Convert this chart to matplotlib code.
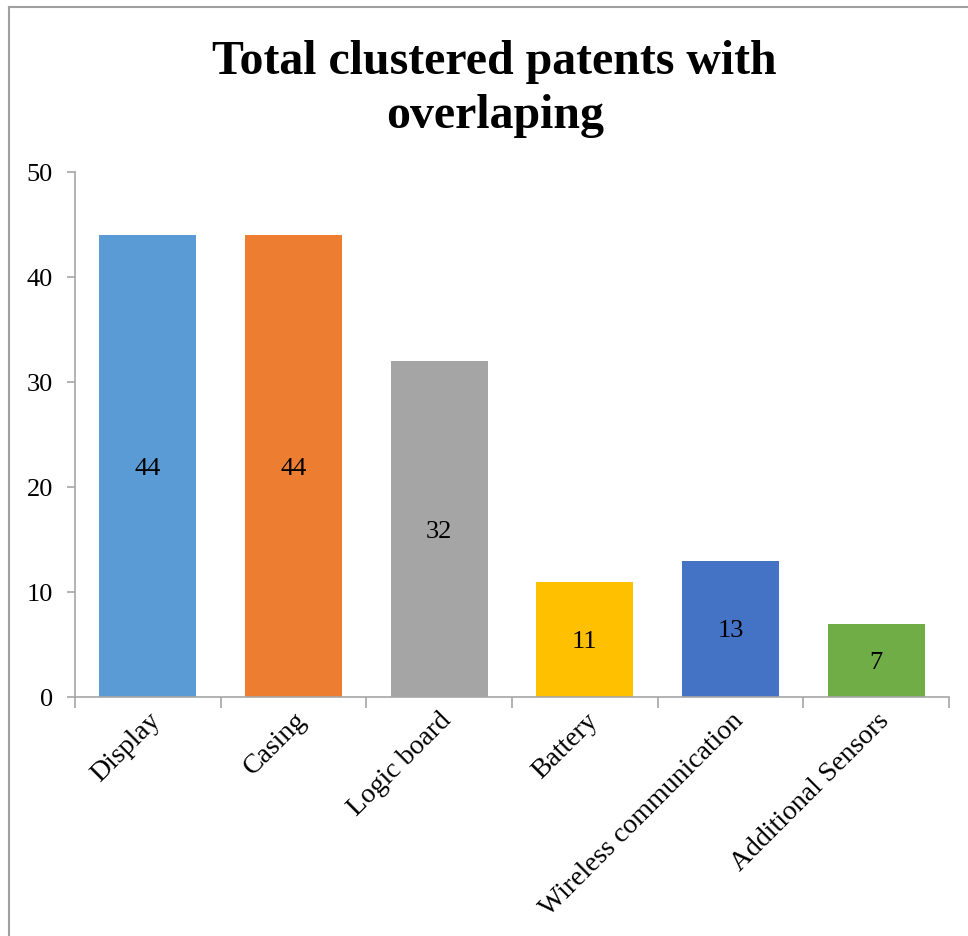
import matplotlib.pyplot as plt
from matplotlib.lines import Line2D

categories = ['Display', 'Casing', 'Logic board', 'Battery',
              'Wireless communication', 'Additional Sensors']
counts = [44, 44, 32, 11, 13, 7]
bar_colors = ['#5B9BD5', '#ED7D31', '#A5A5A5', '#FFC000', '#4472C4', '#70AD47']
y_ticks = [0, 10, 20, 30, 40, 50]

plt.rcParams['font.family'] = ['Liberation Serif', 'DejaVu Serif']

fig = plt.figure(figsize=(9.68, 9.36), dpi=100)
ax = fig.add_axes([0.0775, 0.2553, 0.9029, 0.5609])

x = list(range(len(categories)))
bars = ax.bar(x, counts, width=0.665, color=bar_colors, zorder=2)

# value labels centred inside each bar
for rect, val in zip(bars, counts):
    ax.text(rect.get_x() + rect.get_width() / 2, val / 2, str(val),
            ha='center', va='center_baseline', fontsize=19, color='black')

ax.set_xlim(-0.5, len(categories) - 0.5)
ax.set_ylim(0, 50)
ax.set_yticks(y_ticks)

# category boundaries get tick marks, labels sit at the bar centres
ax.set_xticks([i - 0.5 for i in range(len(categories) + 1)])
ax.set_xticklabels([])
ax.set_xticks(x, minor=True)
ax.set_xticklabels(categories, minor=True, rotation=45, ha='right',
                   va='top', rotation_mode='anchor', fontsize=20)

axis_grey = '#A6A6A6'
for side in ['top', 'right']:
    ax.spines[side].set_visible(False)
for side in ['left', 'bottom']:
    ax.spines[side].set_color(axis_grey)
    ax.spines[side].set_linewidth(1.2)

ax.tick_params(axis='y', which='major', length=6, width=1.2, color=axis_grey,
               labelsize=19, pad=10)
ax.tick_params(axis='x', which='major', length=8, width=1.2, color=axis_grey)
ax.tick_params(axis='x', which='minor', length=0, pad=8)

fig.text(0.511, 0.957, 'Total clustered patents with\noverlaping',
         ha='center', va='top', fontsize=34.5, fontweight='bold',
         linespacing=1.3)

# chart-area frame (left and top edges)
fig.add_artist(Line2D([0.009, 0.009], [0, 0.993], transform=fig.transFigure,
                      color='#A0A0A0', linewidth=1.5))
fig.add_artist(Line2D([0.009, 1.0], [0.993, 0.993], transform=fig.transFigure,
                      color='#A0A0A0', linewidth=1.5))

fig.savefig('out.png', dpi=100)
